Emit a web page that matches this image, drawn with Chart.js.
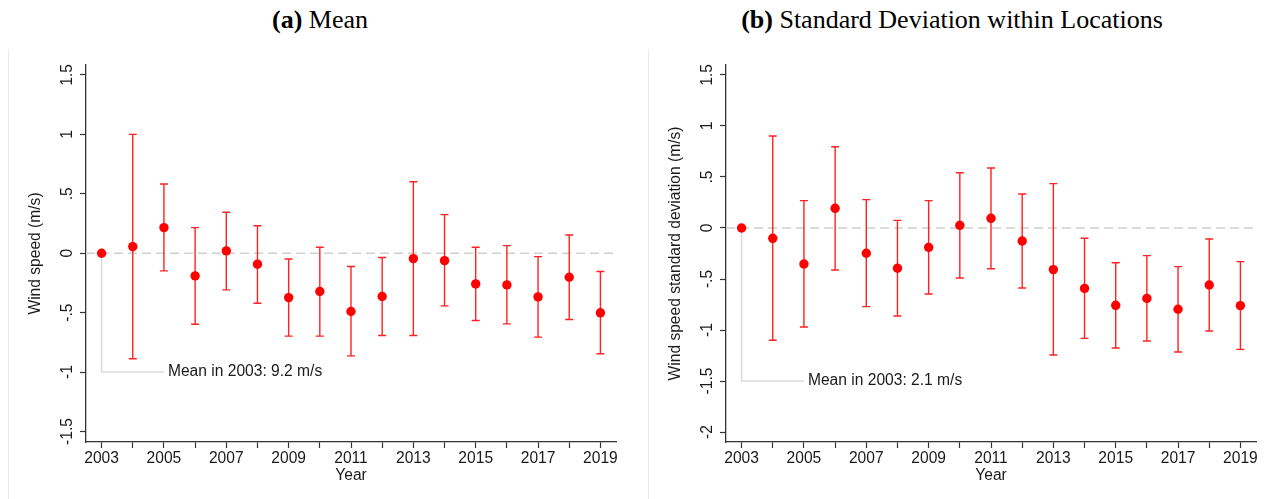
<!DOCTYPE html>
<html>
<head>
<meta charset="utf-8">
<script src="https://cdn.jsdelivr.net/npm/chart.js@4.4.1/dist/chart.umd.min.js"></script>
<style>
  body { margin: 0; background: #fff; width: 1270px; height: 499px; overflow: hidden; position: relative; }
  .title { position: absolute; top: 4px; font-family: "Liberation Serif", "Times New Roman", serif; font-size: 26px; line-height: 32px; color: #000; text-align: center; }
  .frame { position: absolute; top: 49px; bottom: 0; border-left: 1px solid #e4ecf0; }
  .panel { position: absolute; top: 0; height: 499px; }
</style>
</head>
<body>
<div class="title" style="left:0;width:640px"><b>(a)</b> Mean</div>
<div class="title" style="left:640px;width:624px"><b>(b)</b> Standard Deviation within Locations</div>
<div class="frame" style="left:8px"></div>
<div class="frame" style="left:648px"></div>
<div class="panel" style="left:0;width:640px"><canvas id="meanChart"></canvas></div>
<div class="panel" style="left:640px;width:630px"><canvas id="sdChart"></canvas></div>

<script>
// data (relative to 2003)
const years = [2003, 2004, 2005, 2006, 2007, 2008, 2009, 2010, 2011, 2012, 2013, 2014, 2015, 2016, 2017, 2018, 2019];
const yearLabels = ['2003', '', '2005', '', '2007', '', '2009', '', '2011', '', '2013', '', '2015', '', '2017', '', '2019'];

// (a) mean wind speed
const meanEst = [0, 0.056, 0.216, -0.19, 0.02, -0.092, -0.373, -0.322, -0.49, -0.364, -0.045, -0.062, -0.258, -0.266, -0.367, -0.202, -0.501];
const meanLo = [null, -0.888, -0.148, -0.597, -0.308, -0.42, -0.697, -0.697, -0.863, -0.692, -0.692, -0.443, -0.566, -0.594, -0.706, -0.557, -0.846];
const meanHi = [null, 1.0, 0.583, 0.216, 0.345, 0.232, -0.048, 0.05, -0.112, -0.036, 0.602, 0.325, 0.05, 0.064, -0.028, 0.154, -0.154];
const meanTicks = [-1.5, -1, -0.5, 0, 0.5, 1, 1.5];
const meanTickLabels = ['-1.5', '-1', '-.5', '0', '.5', '1', '1.5'];

// (b) standard deviation within locations
const sdEst = [0, -0.101, -0.353, 0.193, -0.248, -0.395, -0.19, 0.026, 0.095, -0.127, -0.408, -0.592, -0.758, -0.69, -0.797, -0.559, -0.761];
const sdLo = [null, -1.101, -0.971, -0.412, -0.771, -0.863, -0.647, -0.49, -0.399, -0.588, -1.245, -1.082, -1.176, -1.108, -1.216, -1.01, -1.19];
const sdHi = [null, 0.902, 0.268, 0.797, 0.278, 0.075, 0.268, 0.542, 0.588, 0.333, 0.435, -0.101, -0.34, -0.271, -0.379, -0.108, -0.33];
const sdTicks = [-2, -1.5, -1, -0.5, 0, 0.5, 1, 1.5];
const sdTickLabels = ['-2', '-1.5', '-1', '-.5', '0', '.5', '1', '1.5'];

const FONT = '"Liberation Sans", Arial, sans-serif';
const FS = 15.6;
Chart.defaults.font.family = FONT;
Chart.defaults.color = '#1a1a1a';

// zero line, 2003 note and the confidence bars
function makeErrorBars(lo, hi, note) {
  return {
    id: 'errorBars',
    beforeDatasetsDraw(chart) {
      const { ctx, chartArea, scales: { x, y } } = chart;
      const y0 = y.getPixelForValue(0);
      ctx.save();

      ctx.strokeStyle = '#d0d0d0';
      ctx.lineWidth = 1.3;
      ctx.setLineDash([9, 5]);
      ctx.beginPath();
      ctx.moveTo(chartArea.left, y0);
      ctx.lineTo(chartArea.right, y0);
      ctx.stroke();
      ctx.setLineDash([]);

      const bx = x.getPixelForValue(years[0]);
      const ny = y.getPixelForValue(note.y);
      const nx = x.getPixelForValue(note.x);
      ctx.strokeStyle = '#dadada';
      ctx.lineWidth = 1.5;
      ctx.beginPath();
      ctx.moveTo(bx, y0);
      ctx.lineTo(bx, ny);
      ctx.lineTo(nx, ny);
      ctx.stroke();
      ctx.fillStyle = '#1a1a1a';
      ctx.font = FS + 'px ' + FONT;
      ctx.textBaseline = 'middle';
      ctx.fillText(note.text, nx + 4, ny);

      ctx.strokeStyle = 'rgba(255, 15, 15, 0.92)';
      ctx.lineWidth = 1.4;
      years.forEach((yr, i) => {
        if (lo[i] == null) return;
        const px = x.getPixelForValue(yr);
        const pl = y.getPixelForValue(lo[i]);
        const ph = y.getPixelForValue(hi[i]);
        ctx.beginPath();
        ctx.moveTo(px, pl); ctx.lineTo(px, ph);
        ctx.moveTo(px - 4, pl); ctx.lineTo(px + 4, pl);
        ctx.moveTo(px - 4, ph); ctx.lineTo(px + 4, ph);
        ctx.stroke();
      });
      ctx.restore();
    }
  };
}

function buildChart(id, est, lo, hi, yMin, yMax, ticks, tickLabels, yTitle, note, padRight) {
  return new Chart(document.getElementById(id), {
    type: 'scatter',
    data: {
      datasets: [{
        data: years.map((yr, i) => ({ x: yr, y: est[i] })),
        backgroundColor: '#ff0000',
        borderWidth: 0,
        pointRadius: 4.7
      }]
    },
    options: {
      responsive: true,
      maintainAspectRatio: false,
      animation: false,
      layout: { padding: { top: 65, right: padRight, left: 0, bottom: 0 } },
      plugins: { legend: { display: false }, tooltip: { enabled: false } },
      scales: {
        x: {
          type: 'linear',
          min: 2002.5,
          max: 2019.5,
          afterBuildTicks: s => { s.ticks = years.map(v => ({ value: v })); },
          afterFit: s => { s.height = 57; },
          grid: { display: true, drawOnChartArea: false, drawTicks: true, tickLength: 6, tickWidth: 1.2, tickColor: '#333' },
          border: { display: true, color: '#333', width: 1.3 },
          ticks: { autoSkip: false, maxRotation: 0, padding: 1, font: { size: FS }, callback: (v, i) => yearLabels[i] },
          title: { display: true, text: 'Year', font: { size: FS }, padding: { top: 0, bottom: 14 } }
        },
        y: {
          min: yMin,
          max: yMax,
          afterBuildTicks: s => { s.ticks = ticks.map(v => ({ value: v })); },
          afterFit: s => { s.width = 86; },
          grid: { display: true, drawOnChartArea: false, drawTicks: true, tickLength: 6, tickWidth: 1.2, tickColor: '#333' },
          border: { display: true, color: '#333', width: 1.3 },
          ticks: { minRotation: 90, maxRotation: 90, crossAlign: 'center', padding: -1, font: { size: FS }, callback: (v, i) => tickLabels[i] },
          title: { display: true, text: yTitle, font: { size: FS }, padding: { top: 26, bottom: 0 } }
        }
      }
    },
    plugins: [makeErrorBars(lo, hi, note)]
  });
}

buildChart('meanChart', meanEst, meanLo, meanHi, -1.588, 1.584, meanTicks, meanTickLabels,
  'Wind speed (m/s)', { x: 2005, y: -1, text: 'Mean in 2003: 9.2 m/s' }, 24);
buildChart('sdChart', sdEst, sdLo, sdHi, -2.098, 1.598, sdTicks, sdTickLabels,
  'Wind speed standard deviation (m/s)', { x: 2005, y: -1.5, text: 'Mean in 2003: 2.1 m/s' }, 14);
</script>
</body>
</html>
